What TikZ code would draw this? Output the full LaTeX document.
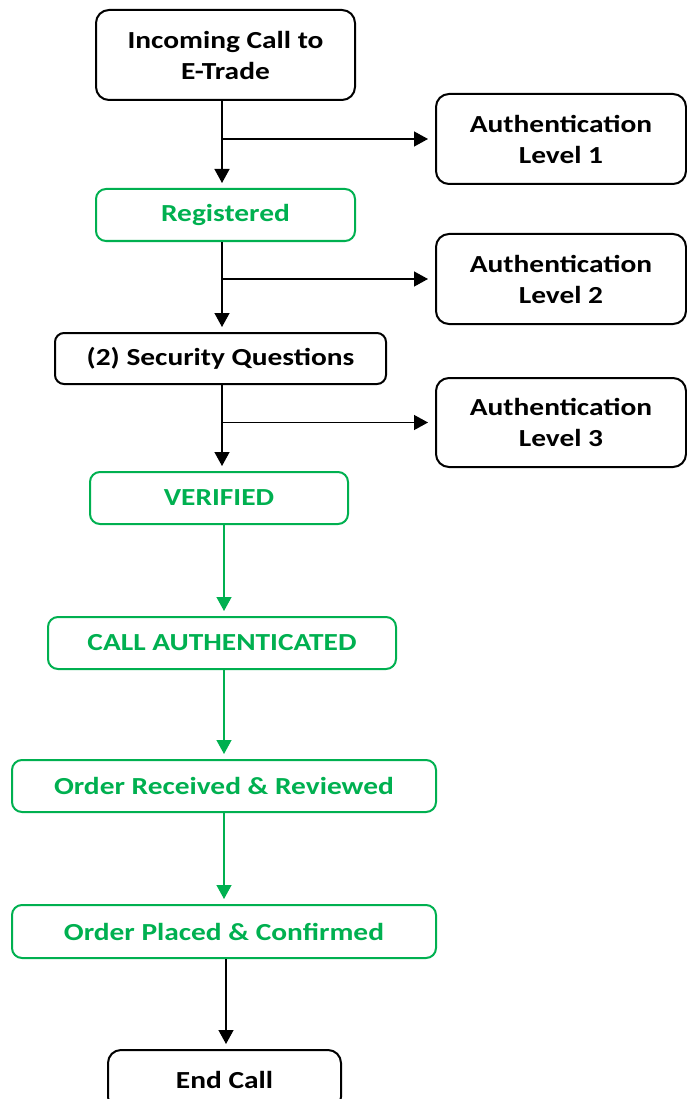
\documentclass[tikz,border=0pt]{standalone}
\usepackage{fontspec}
\setmainfont{Carlito}[FakeStretch=1.2]
\usetikzlibrary{arrows.meta}
\definecolor{okgreen}{HTML}{00B050}
\begin{document}
\begin{tikzpicture}[x=1pt,y=-1pt,
  box/.style={draw=black, line width=2pt, rounded corners=13pt, align=center,
    font=\bfseries\fontsize{24.5}{31}\selectfont, inner sep=0pt, text=black},
  gbox/.style={box, draw=okgreen, text=okgreen, rounded corners=10pt},
  arr/.style={draw=black, line width=1.3pt, -{Triangle[width=15pt,length=14pt]}, shorten >=5pt},
  garr/.style={arr, draw=okgreen, fill=okgreen},
]
\useasboundingbox (0,0) rectangle (686,1099);
\node[box, minimum width=259, minimum height=90] (inc) at (225.5,55) {Incoming Call to\\E-Trade};
\node[box, minimum width=250, minimum height=90] (a1) at (561,139) {Authentication\\Level 1};
\node[gbox, minimum width=259, minimum height=52] (reg) at (225.5,215) {Registered};
\node[box, minimum width=250, minimum height=90] (a2) at (561,279) {Authentication\\Level 2};
\node[box, rounded corners=9pt, minimum width=331, minimum height=51] (sec) at (220.5,358.5) {(2) Security Questions};
\node[box, minimum width=250, minimum height=89] (a3) at (561,422.5) {Authentication\\Level 3};
\node[gbox, minimum width=258, minimum height=52] (ver) at (219,498) {VERIFIED};
\node[gbox, minimum width=348, minimum height=52] (cal) at (222,643) {CALL AUTHENTICATED};
\node[gbox, minimum width=424, minimum height=52] (orr) at (224,786) {Order Received \& Reviewed};
\node[gbox, minimum width=424, minimum height=53] (opc) at (224,931.5) {Order Placed \& Confirmed};
\node[box, minimum width=233, minimum height=60] (endc) at (224.5,1080) {End Call};

\coordinate (s1) at ([xshift=-3.5pt]inc.south);
\coordinate (b1) at (s1 |- a1.west);
\draw[arr] (s1) -- (s1 |- reg.north);
\draw[arr, shorten >=7pt] (b1) -- (a1.west);

\coordinate (s2) at ([xshift=-3.5pt]reg.south);
\coordinate (b2) at (s2 |- a2.west);
\draw[arr] (s2) -- (s2 |- sec.north);
\draw[arr, shorten >=7pt] (b2) -- (a2.west);

\coordinate (s3) at (s2 |- sec.south);
\coordinate (b3) at (s3 |- a3.west);
\draw[arr] (s3) -- (s3 |- ver.north);
\draw[arr, shorten >=7pt] (b3) -- (a3.west);

\coordinate (s4) at ([xshift=5pt]ver.south);
\draw[garr] (s4) -- (s4 |- cal.north);
\coordinate (s5) at (s4 |- cal.south);
\draw[garr] (s5) -- (s5 |- orr.north);
\coordinate (s6) at (s4 |- orr.south);
\draw[garr] (s6) -- (s6 |- opc.north);
\coordinate (s7) at ([xshift=2pt]opc.south);
\draw[arr] (s7) -- (s7 |- endc.north);
\end{tikzpicture}
\end{document}
